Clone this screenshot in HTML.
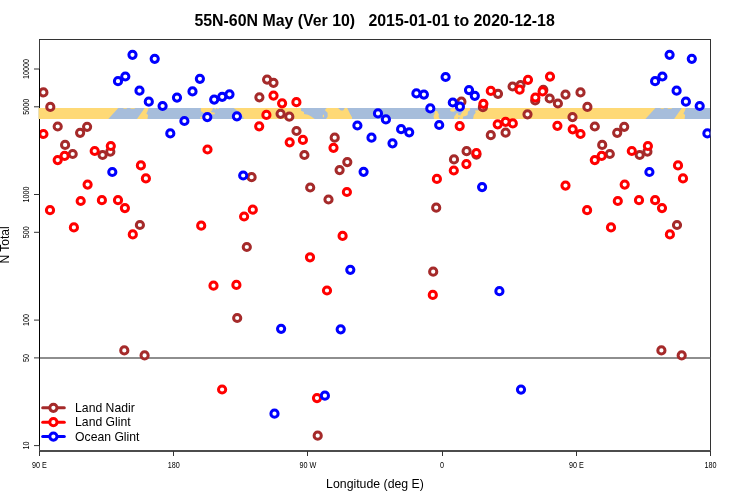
<!DOCTYPE html>
<html><head><meta charset="utf-8"><title>55N-60N May (Ver 10)</title>
<style>
html,body{margin:0;padding:0;background:#fff;}
body{width:750px;height:500px;overflow:hidden;font-family:"Liberation Sans",sans-serif;}
svg{display:block;will-change:transform;font-family:"Liberation Sans",sans-serif;}
</style></head><body>
<svg width="750" height="500" viewBox="0 0 750 500">
<rect width="750" height="500" fill="#fff"/>
<defs>
<clipPath id="pc"><rect x="40" y="39.5" width="670.3" height="411.5"/></clipPath>
<clipPath id="bc"><rect x="38.6" y="108" width="671.7" height="11"/></clipPath>
</defs>
<!-- box -->
<g stroke-width="1" fill="none">
<line x1="39.5" x2="39.5" y1="39" y2="452" stroke="#3c3c3c"/>
<line x1="39.5" x2="39.5" y1="69" y2="445.6" stroke="#000"/>
<line x1="710.5" x2="710.5" y1="39" y2="452" stroke="#333"/>
<line x1="39" x2="711" y1="39.5" y2="39.5" stroke="#333"/>
</g>
<line x1="39" x2="711" y1="451" y2="451" stroke="#4c4c4c" stroke-width="1.9"/>
<!-- ticks -->
<g stroke="#333" stroke-width="1">
<line x1="34" x2="39.5" y1="69.0" y2="69.0"/>
<line x1="34" x2="39.5" y1="106.8" y2="106.8"/>
<line x1="34" x2="39.5" y1="194.5" y2="194.5"/>
<line x1="34" x2="39.5" y1="232.3" y2="232.3"/>
<line x1="34" x2="39.5" y1="320.1" y2="320.1"/>
<line x1="34" x2="39.5" y1="357.9" y2="357.9"/>
<line x1="34" x2="39.5" y1="445.6" y2="445.6"/>
<line x1="39.5" x2="39.5" y1="451" y2="456"/>
<line x1="173.5" x2="173.5" y1="451" y2="456"/>
<line x1="307.5" x2="307.5" y1="451" y2="456"/>
<line x1="442.5" x2="442.5" y1="451" y2="456"/>
<line x1="576.5" x2="576.5" y1="451" y2="456"/>
<line x1="710.5" x2="710.5" y1="451" y2="456"/>
</g>
<!-- land/ocean band (drawn over the left spine) -->
<g clip-path="url(#bc)">
<rect x="38" y="108" width="673" height="11" fill="#A6BDDB"/>
<g fill="#FED976">
<polygon points="38.0,108 118.3,108 108.3,119 38.0,119"/>
<polygon points="575.1,108 655.4,108 645.4,119 575.1,119"/>
<polygon points="123.5,108 127.0,108 126.5,108.8 123.5,108.8"/>
<polygon points="660.6,108 664.1,108 663.6,108.8 660.6,108.8"/>
<polygon points="130.5,108 135.0,108 134.5,108.8 130.5,108.8"/>
<polygon points="667.6,108 672.1,108 671.6,108.8 667.6,108.8"/>
<polygon points="144.7,108 148.7,108 147.2,112 146.3,113.5 148.0,115 147.5,119 137.0,119"/>
<polygon points="681.8,108 685.8,108 684.3,112 683.4,113.5 685.1,115 684.6,119 674.1,119"/>
<polygon points="200.9,108 213.0,108 212.3,110 210.5,112 214.8,112.8 214.8,114.3 211.0,114.5 209.0,116 205.0,115 203.0,112.5 200.9,111.3"/>
<polygon points="200.1,117 202.2,116.6 202.5,118.8 200.3,118.8"/>
<polygon points="214.5,108 216.2,108 216.0,109.2 214.5,109.2"/>
<polygon points="217.2,108 218.8,108 218.6,109 217.2,109"/>
<polygon points="233.6,108 301.0,108 301.0,110.8 304.0,112 304.0,114 308.0,114.8 311.2,116.4 313.2,118 314.8,119 243.8,119 243.2,117 240.8,114 237.8,111"/>
<polygon points="322.8,114.8 324.0,114.8 324.0,117.2 322.8,117.2"/>
<polygon points="326.8,108 338.0,108 340.8,110.4 343.2,110.4 344.8,108 347.2,108 348.8,111.2 350.4,114.4 352.0,117.2 352.0,119 326.0,119 327.6,116.8 327.6,112.8 326.0,111.2 324.8,110"/>
<polygon points="435.0,111 437.2,111 438.0,113 439.0,114.5 438.5,116.5 439.7,119 434.0,119 433.5,116 434.5,114"/>
<polygon points="451.5,108.3 454.5,108.3 455.9,110 454.0,111.7 451.0,111.5 450.0,110"/>
<polygon points="456.5,113.2 458.3,113.2 458.0,115 460.6,115.5 460.0,117 458.0,117.5 458.5,119 454.0,119 454.3,116.5 455.5,115"/>
<polygon points="464.5,108 470.2,108 469.8,110.5 468.0,111.5 467.6,115 465.5,116 463.2,116.5 462.8,119 459.2,119 459.8,116.5 461.0,114 462.5,112 463.5,110"/>
<polygon points="479.3,108 576.5,108 576.5,119 473.1,119 473.8,115 475.7,112.8 475.0,110.6 479.3,110.2"/>
</g>
</g>
<line x1="710.5" x2="710.5" y1="108" y2="119" stroke="#333" stroke-width="1"/>
<g clip-path="url(#pc)">
<!-- N=50 reference line -->
<line x1="39.5" x2="710.5" y1="357.91" y2="357.91" stroke="#8e8e8e" stroke-width="2"/>
<!-- points -->
<g fill="#fff" stroke="#A52A2A" stroke-width="3">
<circle cx="43.4" cy="92.4" r="3.6"/>
<circle cx="50.3" cy="106.9" r="3.6"/>
<circle cx="57.7" cy="126.5" r="3.6"/>
<circle cx="87.1" cy="126.8" r="3.6"/>
<circle cx="80.1" cy="132.8" r="3.6"/>
<circle cx="65.1" cy="144.9" r="3.6"/>
<circle cx="72.7" cy="154" r="3.6"/>
<circle cx="110.3" cy="151.7" r="3.6"/>
<circle cx="102.6" cy="155" r="3.6"/>
<circle cx="139.9" cy="225" r="3.6"/>
<circle cx="124.3" cy="350.4" r="3.6"/>
<circle cx="144.6" cy="355.4" r="3.6"/>
<circle cx="267.1" cy="79.6" r="3.6"/>
<circle cx="273.5" cy="82.8" r="3.6"/>
<circle cx="259.4" cy="97.3" r="3.6"/>
<circle cx="251.6" cy="177.2" r="3.6"/>
<circle cx="246.8" cy="247" r="3.6"/>
<circle cx="237.2" cy="318" r="3.6"/>
<circle cx="280.6" cy="113.8" r="3.6"/>
<circle cx="289.3" cy="116.7" r="3.6"/>
<circle cx="296.5" cy="131" r="3.6"/>
<circle cx="304.4" cy="155" r="3.6"/>
<circle cx="334.7" cy="137.7" r="3.6"/>
<circle cx="347.3" cy="162.1" r="3.6"/>
<circle cx="339.6" cy="170.1" r="3.6"/>
<circle cx="310.2" cy="187.5" r="3.6"/>
<circle cx="328.5" cy="199.5" r="3.6"/>
<circle cx="317.7" cy="435.7" r="3.6"/>
<circle cx="461.4" cy="101.7" r="3.6"/>
<circle cx="498" cy="93.8" r="3.6"/>
<circle cx="512.6" cy="86.5" r="3.6"/>
<circle cx="482.9" cy="107.2" r="3.6"/>
<circle cx="490.8" cy="135.2" r="3.6"/>
<circle cx="505.6" cy="132.7" r="3.6"/>
<circle cx="466.6" cy="151.2" r="3.6"/>
<circle cx="476.4" cy="154.6" r="3.6"/>
<circle cx="454" cy="159.4" r="3.6"/>
<circle cx="436.2" cy="207.7" r="3.6"/>
<circle cx="433.2" cy="271.7" r="3.6"/>
<circle cx="520.5" cy="85" r="3.6"/>
<circle cx="543.3" cy="89.9" r="3.6"/>
<circle cx="535.2" cy="100.5" r="3.6"/>
<circle cx="549.7" cy="98.5" r="3.6"/>
<circle cx="557.9" cy="103.5" r="3.6"/>
<circle cx="565.5" cy="94.6" r="3.6"/>
<circle cx="527.5" cy="114.3" r="3.6"/>
<circle cx="572.5" cy="117.1" r="3.6"/>
<circle cx="580.5" cy="92.4" r="3.6"/>
<circle cx="587.4" cy="106.9" r="3.6"/>
<circle cx="594.8" cy="126.5" r="3.6"/>
<circle cx="624.2" cy="126.8" r="3.6"/>
<circle cx="617.2" cy="132.8" r="3.6"/>
<circle cx="602.2" cy="144.9" r="3.6"/>
<circle cx="609.8" cy="154" r="3.6"/>
<circle cx="647.4" cy="151.7" r="3.6"/>
<circle cx="639.7" cy="155" r="3.6"/>
<circle cx="677.0" cy="225" r="3.6"/>
<circle cx="661.4" cy="350.4" r="3.6"/>
<circle cx="681.7" cy="355.4" r="3.6"/>
</g>
<g fill="#fff" stroke="#FF0000" stroke-width="3">
<circle cx="43.4" cy="134" r="3.6"/>
<circle cx="64.6" cy="155.9" r="3.6"/>
<circle cx="57.7" cy="160.1" r="3.6"/>
<circle cx="94.7" cy="151" r="3.6"/>
<circle cx="110.8" cy="146" r="3.6"/>
<circle cx="140.9" cy="165.4" r="3.6"/>
<circle cx="145.9" cy="178.4" r="3.6"/>
<circle cx="87.6" cy="184.6" r="3.6"/>
<circle cx="80.7" cy="201" r="3.6"/>
<circle cx="101.9" cy="200.2" r="3.6"/>
<circle cx="118" cy="200.2" r="3.6"/>
<circle cx="124.9" cy="208.1" r="3.6"/>
<circle cx="50" cy="210.2" r="3.6"/>
<circle cx="73.9" cy="227.4" r="3.6"/>
<circle cx="132.8" cy="234.4" r="3.6"/>
<circle cx="273.5" cy="95.6" r="3.6"/>
<circle cx="266.4" cy="114.9" r="3.6"/>
<circle cx="259.2" cy="126.3" r="3.6"/>
<circle cx="207.5" cy="149.5" r="3.6"/>
<circle cx="201.2" cy="225.7" r="3.6"/>
<circle cx="252.8" cy="209.7" r="3.6"/>
<circle cx="244.1" cy="216.5" r="3.6"/>
<circle cx="213.5" cy="285.7" r="3.6"/>
<circle cx="236.4" cy="284.9" r="3.6"/>
<circle cx="222.1" cy="389.5" r="3.6"/>
<circle cx="282.1" cy="103.3" r="3.6"/>
<circle cx="296.4" cy="102.2" r="3.6"/>
<circle cx="289.7" cy="142.3" r="3.6"/>
<circle cx="302.9" cy="139.9" r="3.6"/>
<circle cx="333.5" cy="147.8" r="3.6"/>
<circle cx="346.9" cy="192" r="3.6"/>
<circle cx="342.6" cy="235.9" r="3.6"/>
<circle cx="310" cy="257.3" r="3.6"/>
<circle cx="327" cy="290.5" r="3.6"/>
<circle cx="317" cy="398.1" r="3.6"/>
<circle cx="490.8" cy="90.9" r="3.6"/>
<circle cx="483.4" cy="103.8" r="3.6"/>
<circle cx="459.7" cy="126.1" r="3.6"/>
<circle cx="497.7" cy="124.3" r="3.6"/>
<circle cx="505.6" cy="121.8" r="3.6"/>
<circle cx="512.8" cy="123.4" r="3.6"/>
<circle cx="476.4" cy="153.2" r="3.6"/>
<circle cx="466.4" cy="164.1" r="3.6"/>
<circle cx="453.8" cy="170.5" r="3.6"/>
<circle cx="436.9" cy="178.9" r="3.6"/>
<circle cx="432.8" cy="294.9" r="3.6"/>
<circle cx="550" cy="76.6" r="3.6"/>
<circle cx="528" cy="79.8" r="3.6"/>
<circle cx="519.6" cy="89.7" r="3.6"/>
<circle cx="542.6" cy="91.4" r="3.6"/>
<circle cx="535.4" cy="97.5" r="3.6"/>
<circle cx="557.4" cy="125.8" r="3.6"/>
<circle cx="572.7" cy="129.3" r="3.6"/>
<circle cx="565.5" cy="185.6" r="3.6"/>
<circle cx="580.5" cy="134" r="3.6"/>
<circle cx="601.7" cy="155.9" r="3.6"/>
<circle cx="594.8" cy="160.1" r="3.6"/>
<circle cx="631.8" cy="151" r="3.6"/>
<circle cx="647.9" cy="146" r="3.6"/>
<circle cx="678.0" cy="165.4" r="3.6"/>
<circle cx="683.0" cy="178.4" r="3.6"/>
<circle cx="624.7" cy="184.6" r="3.6"/>
<circle cx="617.8" cy="201" r="3.6"/>
<circle cx="639.0" cy="200.2" r="3.6"/>
<circle cx="655.1" cy="200.2" r="3.6"/>
<circle cx="662.0" cy="208.1" r="3.6"/>
<circle cx="587.1" cy="210.2" r="3.6"/>
<circle cx="611.0" cy="227.4" r="3.6"/>
<circle cx="669.9" cy="234.4" r="3.6"/>
</g>
<g fill="#fff" stroke="#0000FF" stroke-width="3">
<circle cx="132.5" cy="54.8" r="3.6"/>
<circle cx="154.7" cy="58.8" r="3.6"/>
<circle cx="125.3" cy="76.5" r="3.6"/>
<circle cx="118" cy="81.2" r="3.6"/>
<circle cx="139.5" cy="90.7" r="3.6"/>
<circle cx="148.8" cy="101.7" r="3.6"/>
<circle cx="112.3" cy="172" r="3.6"/>
<circle cx="199.9" cy="78.8" r="3.6"/>
<circle cx="192.5" cy="91.4" r="3.6"/>
<circle cx="177" cy="97.6" r="3.6"/>
<circle cx="162.6" cy="106" r="3.6"/>
<circle cx="214.2" cy="99.6" r="3.6"/>
<circle cx="222.2" cy="96.8" r="3.6"/>
<circle cx="229.5" cy="94.3" r="3.6"/>
<circle cx="207.3" cy="117.1" r="3.6"/>
<circle cx="236.9" cy="116.3" r="3.6"/>
<circle cx="184.4" cy="121" r="3.6"/>
<circle cx="170.3" cy="133.4" r="3.6"/>
<circle cx="243.2" cy="175.5" r="3.6"/>
<circle cx="378" cy="113.4" r="3.6"/>
<circle cx="385.9" cy="119.4" r="3.6"/>
<circle cx="357.4" cy="125.5" r="3.6"/>
<circle cx="371.5" cy="137.7" r="3.6"/>
<circle cx="363.6" cy="171.8" r="3.6"/>
<circle cx="392.5" cy="143.3" r="3.6"/>
<circle cx="350.3" cy="269.8" r="3.6"/>
<circle cx="281.1" cy="328.8" r="3.6"/>
<circle cx="340.7" cy="329.3" r="3.6"/>
<circle cx="274.5" cy="413.7" r="3.6"/>
<circle cx="324.9" cy="395.7" r="3.6"/>
<circle cx="445.6" cy="77" r="3.6"/>
<circle cx="416.4" cy="93.4" r="3.6"/>
<circle cx="423.9" cy="94.6" r="3.6"/>
<circle cx="430.3" cy="108.4" r="3.6"/>
<circle cx="452.8" cy="102.5" r="3.6"/>
<circle cx="459.9" cy="106.7" r="3.6"/>
<circle cx="469" cy="90.1" r="3.6"/>
<circle cx="474.8" cy="95.8" r="3.6"/>
<circle cx="401.1" cy="129.2" r="3.6"/>
<circle cx="409.2" cy="132.3" r="3.6"/>
<circle cx="439.2" cy="125" r="3.6"/>
<circle cx="482.1" cy="187.1" r="3.6"/>
<circle cx="499.4" cy="291.2" r="3.6"/>
<circle cx="521" cy="389.6" r="3.6"/>
<circle cx="669.6" cy="54.8" r="3.6"/>
<circle cx="691.8" cy="58.8" r="3.6"/>
<circle cx="662.4" cy="76.5" r="3.6"/>
<circle cx="655.1" cy="81.2" r="3.6"/>
<circle cx="676.6" cy="90.7" r="3.6"/>
<circle cx="685.9" cy="101.7" r="3.6"/>
<circle cx="649.4" cy="172" r="3.6"/>
<circle cx="699.7" cy="106" r="3.6"/>
<circle cx="707.4" cy="133.4" r="3.6"/>
</g>
<!-- legend -->
<g stroke-width="3" fill="#fff" stroke-linecap="round">
<g stroke="#A52A2A"><line x1="42.7" x2="64.3" y1="407.8" y2="407.8"/><circle cx="53.4" cy="407.8" r="3.6"/></g>
<g stroke="#FF0000"><line x1="42.7" x2="64.3" y1="422.2" y2="422.2"/><circle cx="53.4" cy="422.2" r="3.6"/></g>
<g stroke="#0000FF"><line x1="42.7" x2="64.3" y1="436.6" y2="436.6"/><circle cx="53.4" cy="436.6" r="3.6"/></g>
</g>
<g font-size="12.2px" fill="#000">
<text x="75.1" y="411.8">Land Nadir</text>
<text x="75.1" y="426.3">Land Glint</text>
<text x="75.1" y="440.7">Ocean Glint</text>
</g>
</g>
<!-- tick labels -->
<g font-size="8.4px" fill="#000">
<text transform="translate(28.8,69.0) rotate(-90) scale(0.86,1)" text-anchor="middle">10000</text>
<text transform="translate(28.8,106.8) rotate(-90) scale(0.86,1)" text-anchor="middle">5000</text>
<text transform="translate(28.8,194.5) rotate(-90) scale(0.86,1)" text-anchor="middle">1000</text>
<text transform="translate(28.8,232.3) rotate(-90) scale(0.86,1)" text-anchor="middle">500</text>
<text transform="translate(28.8,320.1) rotate(-90) scale(0.86,1)" text-anchor="middle">100</text>
<text transform="translate(28.8,357.9) rotate(-90) scale(0.86,1)" text-anchor="middle">50</text>
<text transform="translate(28.8,445.6) rotate(-90) scale(0.86,1)" text-anchor="middle">10</text>
<text transform="translate(39.5,467.8) scale(0.86,1)" text-anchor="middle">90 E</text>
<text transform="translate(173.7,467.8) scale(0.86,1)" text-anchor="middle">180</text>
<text transform="translate(307.9,467.8) scale(0.86,1)" text-anchor="middle">90 W</text>
<text transform="translate(442.1,467.8) scale(0.86,1)" text-anchor="middle">0</text>
<text transform="translate(576.3,467.8) scale(0.86,1)" text-anchor="middle">90 E</text>
<text transform="translate(710.5,467.8) scale(0.86,1)" text-anchor="middle">180</text>
</g>
<!-- axis titles -->
<text x="375" y="488" font-size="12.3px" text-anchor="middle" fill="#000">Longitude (deg E)</text>
<text transform="translate(8.7,245) rotate(-90)" font-size="12px" text-anchor="middle" fill="#000">N Total</text>
<text x="374.6" y="26.3" font-size="15.9px" font-weight="bold" text-anchor="middle" fill="#000" style="white-space:pre" xml:space="preserve">55N-60N May (Ver 10)   2015-01-01 to 2020-12-18</text>
</svg>
</body></html>
